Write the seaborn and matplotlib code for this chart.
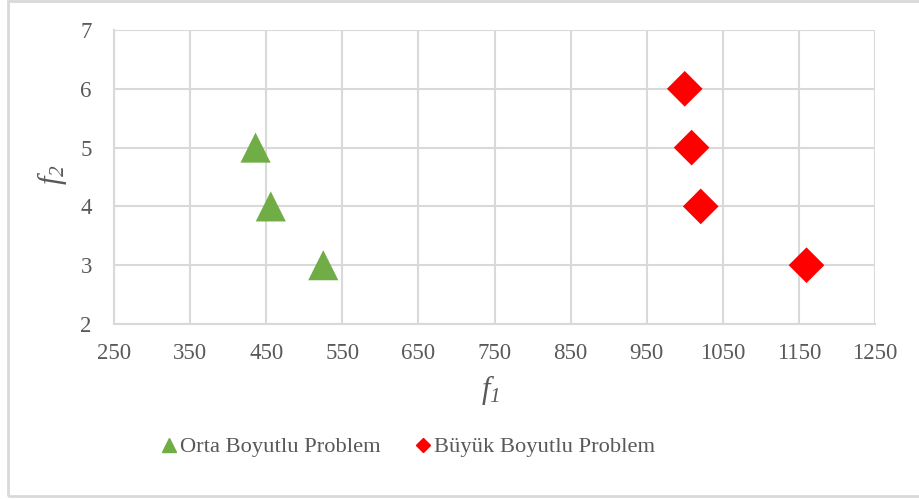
import matplotlib
matplotlib.use("Agg")
import matplotlib.pyplot as plt
import seaborn as sns
import pandas as pd
from matplotlib.patches import Rectangle
from matplotlib.lines import Line2D

orta_f1 = [436, 456, 525]
orta_f2 = [5, 4, 3]
buyuk_f1 = [1000, 1009, 1021, 1160]
buyuk_f2 = [6, 5, 4, 3]
series_names = ["Orta Boyutlu Problem", "Büyük Boyutlu Problem"]
x_ticks = [250, 350, 450, 550, 650, 750, 850, 950, 1050, 1150, 1250]
y_ticks = [2, 3, 4, 5, 6, 7]

df = pd.DataFrame({
    "f1": orta_f1 + buyuk_f1,
    "f2": orta_f2 + buyuk_f2,
    "seri": [series_names[0]] * len(orta_f1) + [series_names[1]] * len(buyuk_f1),
})

sns.set_theme(style="white")
plt.rcParams["font.family"] = ["Liberation Serif", "DejaVu Serif"]
plt.rcParams["mathtext.fontset"] = "custom"
plt.rcParams["mathtext.it"] = "Liberation Serif:italic"
plt.rcParams["mathtext.rm"] = "Liberation Serif:italic"

gray = "#595959"
green = "#70AD47"
red = "#FF0000"

fig = plt.figure(figsize=(9.19, 4.99), dpi=100)
ax = fig.add_axes([114 / 919, 1 - 324 / 499, (875 - 114) / 919, (324 - 30) / 499])

sub_o = df[df.seri == series_names[0]]
sub_b = df[df.seri == series_names[1]]
sns.scatterplot(data=sub_o, x="f1", y="f2", ax=ax, marker="^", s=470, color=green,
                edgecolor="none", linewidth=0, legend=False, zorder=3)
sns.scatterplot(data=sub_b, x="f1", y="f2", ax=ax, marker="D", s=330, color=red,
                edgecolor="none", linewidth=0, legend=False, zorder=3)

ax.set_xlim(250, 1250)
ax.set_ylim(2, 7)
ax.set_xticks(x_ticks)
ax.set_yticks(y_ticks)
ax.grid(True, color="#D9D9D9", linewidth=1.5)
ax.set_axisbelow(True)
for side, sp in ax.spines.items():
    sp.set_visible(side in ("left", "bottom"))
    sp.set_color("#D9D9D9")
    sp.set_linewidth(1.5)
ax.tick_params(axis="both", length=0, labelsize=16.5, colors=gray)
ax.tick_params(axis="y", pad=16)
ax.tick_params(axis="x", pad=14)

ax.set_xlabel("")
ax.set_ylabel("")
fig.text(490 / 919, 1 - 390 / 499, r"$f_{1}$", fontsize=22, color=gray,
         ha="center", va="center")
fig.text(52 / 919, 1 - 175 / 499, r"$f_{2}$", fontsize=22, color=gray,
         ha="center", va="center", rotation=90)

handles = [
    Line2D([], [], marker="^", color=green, linestyle="none", markersize=10),
    Line2D([], [], marker="D", color=red, linestyle="none", markersize=7),
]
fig.legend(handles, series_names, loc="center", bbox_to_anchor=(407 / 919, 1 - 447 / 499),
           ncol=2, frameon=False, fontsize=16.2, labelcolor=gray, handletextpad=0.05,
           columnspacing=1.45, handlelength=0.9, borderpad=0.2)

fig.patches.append(Rectangle((8 / 919, 1 - 496 / 499), 1.2, 495 / 499, transform=fig.transFigure,
                             fill=False, edgecolor="#D9D9D9", linewidth=2, zorder=0))

fig.savefig("out.png", dpi=100)
